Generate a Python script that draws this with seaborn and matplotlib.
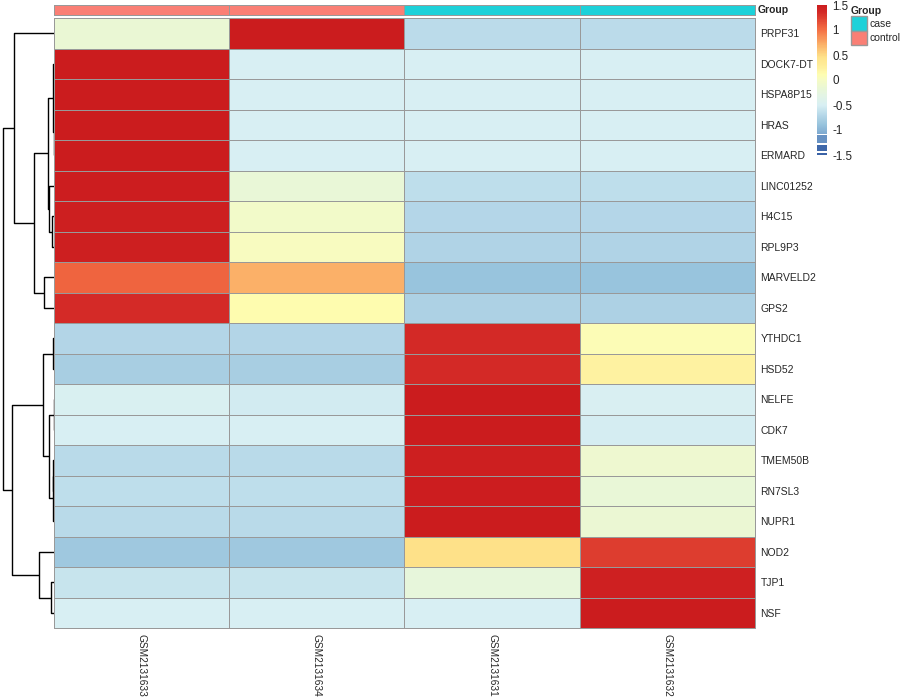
import numpy as np
import pandas as pd
import matplotlib
matplotlib.use("Agg")
import matplotlib.pyplot as plt
import seaborn as sns
from matplotlib.colors import ListedColormap, to_rgb
from matplotlib.patches import Patch

# Data (row z-scores)
genes = ["PRPF31", "DOCK7-DT", "HSPA8P15", "HRAS", "ERMARD", "LINC01252", "H4C15",
         "RPL9P3", "MARVELD2", "GPS2", "YTHDC1", "HSD52", "NELFE", "CDK7",
         "TMEM50B", "RN7SL3", "NUPR1", "NOD2", "TJP1", "NSF"]
samples = ["GSM2131633", "GSM2131634", "GSM2131631", "GSM2131632"]
groups = ["control", "control", "case", "case"]

gsm2131633 = [-0.15, 1.5, 1.5, 1.5, 1.5, 1.48, 1.47, 1.46, 1.05, 1.35,
              -0.72, -0.79, -0.48, -0.5, -0.68, -0.65, -0.68, -0.85, -0.6, -0.5]
gsm2131634 = [1.5, -0.5, -0.5, -0.5, -0.5, -0.18, -0.05, 0.02, 0.72, 0.12,
              -0.72, -0.79, -0.53, -0.5, -0.68, -0.65, -0.68, -0.85, -0.6, -0.5]
gsm2131631 = [-0.67, -0.5, -0.5, -0.5, -0.5, -0.65, -0.71, -0.74, -0.89, -0.76,
              1.36, 1.36, 1.5, 1.5, 1.46, 1.48, 1.5, 0.45, -0.22, -0.5]
gsm2131632 = [-0.67, -0.5, -0.5, -0.5, -0.5, -0.65, -0.71, -0.74, -0.89, -0.76,
              0.08, 0.22, -0.49, -0.52, -0.1, -0.18, -0.14, 1.25, 1.45, 1.5]

# row dendrogram: (left child, right child, height)
# ids < 20 are rows, ids >= 20 are earlier merges
merges = [(2, 3, 0.2), (20, 4, 0.4), (1, 21, 0.6), (6, 7, 1.7), (5, 23, 5.0),
          (22, 24, 5.7), (8, 9, 9.7), (25, 26, 19.7), (0, 27, 40.0),
          (10, 11, 0.8), (12, 13, 0.5), (14, 15, 0.7), (31, 16, 1.5),
          (30, 32, 4.7), (29, 33, 10.7), (18, 19, 3.3), (17, 35, 14.7),
          (34, 36, 42.3), (28, 37, 51.3)]

legend_ticks = [-1.5, -1, -0.5, 0, 0.5, 1, 1.5]
group_colors = {"case": "#1DD1D9", "control": "#FA7F75"}
grid_col = "#999999"

# colour scale: smooth above -1.07, a few blocks below (as in the reference legend)
anchor_vals = [-1.07, -0.9, -0.8, -0.7, -0.6, -0.5, -0.3, -0.15, 0.0, 0.12,
               0.25, 0.45, 0.7, 1.0, 1.2, 1.35, 1.5]
anchor_cols = ["#7FA9D0", "#96C2DC", "#A6CCE1", "#B5D7E8", "#C6E3ED", "#D8EFF3",
               "#E3F4E4", "#EAF7D5", "#F6FBC4", "#FEFDB0", "#FEF09E", "#FEE28A",
               "#FBB36A", "#F46F44", "#E24733", "#D42B27", "#CB1B1E"]
anchor_rgb = np.array([to_rgb(c) for c in anchor_cols])
colors = []
for v in np.arange(-1.5, 1.5, 0.01) + 0.005:
    if v < -1.45:
        colors.append(to_rgb("#3A62A6"))
    elif v < -1.42:
        colors.append((1, 1, 1))
    elif v < -1.29:
        colors.append(to_rgb("#3F68AA"))
    elif v < -1.25:
        colors.append((1, 1, 1))
    elif v < -1.09:
        colors.append(to_rgb("#6892C3"))
    elif v < -1.07:
        colors.append((1, 1, 1))
    else:
        colors.append(tuple(np.interp(v, anchor_vals, anchor_rgb[:, k]) for k in range(3)))
cmap = ListedColormap(colors)

sns.set_style("white")
plt.rcParams["font.family"] = ["Liberation Sans", "DejaVu Sans"]
plt.rcParams["axes.unicode_minus"] = False

df = pd.DataFrame({samples[0]: gsm2131633, samples[1]: gsm2131634,
                   samples[2]: gsm2131631, samples[3]: gsm2131632}, index=genes)

W, H = 900, 700
fig = plt.figure(figsize=(W / 100, H / 100), dpi=100)

def px_axes(x0, y0, x1, y1):
    return fig.add_axes([x0 / W, 1 - y1 / H, (x1 - x0) / W, (y1 - y0) / H])

def cell_borders(ax, nrow, ncol):
    # crisp 1px gray borders round every cell
    for i in range(nrow + 1):
        ax.axhline(i, color=grid_col, lw=0.72, clip_on=False)
    for j in range(ncol + 1):
        ax.axvline(j, color=grid_col, lw=0.72, clip_on=False)

ax_hm = px_axes(54, 18, 755, 628)
ax_ann = px_axes(54, 5, 755, 15)
ax_den = px_axes(0, 18, 54, 628)
ax_cb = px_axes(817, 5, 827, 155)

sns.heatmap(df, ax=ax_hm, cmap=cmap, vmin=-1.5, vmax=1.5, linewidths=0,
            cbar_ax=ax_cb, cbar_kws={"ticks": legend_ticks})
cell_borders(ax_hm, len(genes), len(samples))
ax_hm.tick_params(axis="y", left=False, right=False, labelleft=False,
                  labelright=True, length=0, pad=4, labelsize=7.5)
ax_hm.set_yticklabels(genes, rotation=0, ha="left")
ax_hm.tick_params(axis="x", length=0, pad=4, labelsize=7.3)
ax_hm.set_xticklabels(samples, rotation=270, ha="center", va="top")
ax_hm.set_xlabel("")
ax_hm.set_ylabel("")

# colour legend
cbar = ax_hm.collections[0].colorbar
cbar.outline.set_visible(False)
ax_cb.set_yticklabels(["-1.5", "-1", "-0.5", "0", "0.5", "1", "1.5"])
ax_cb.tick_params(length=0, pad=4, labelsize=8.4)

# group annotation bar
ann = pd.DataFrame([[1 if g == "case" else 0 for g in groups]], columns=samples)
sns.heatmap(ann, ax=ax_ann, cmap=ListedColormap([group_colors["control"], group_colors["case"]]),
            vmin=0, vmax=1, cbar=False, linewidths=0,
            xticklabels=False, yticklabels=False)
cell_borders(ax_ann, 1, len(samples))
fig.text(758 / W, 1 - 10 / H, "Group", fontsize=7.5, fontweight="bold", va="center", ha="left")

# row dendrogram
n = len(genes)
centers = {i: i + 0.5 for i in range(n)}
heights = {i: 0.0 for i in range(n)}
for k, (a, b, h) in enumerate(merges):
    nid = n + k
    ax_den.plot([heights[a], h, h, heights[b]], [centers[a], centers[a], centers[b], centers[b]],
                color="black", lw=1.0, solid_capstyle="butt")
    centers[nid] = (centers[a] + centers[b]) / 2
    heights[nid] = h
ax_den.set_xlim(54, 0)
ax_den.set_ylim(n, 0)
ax_den.axis("off")

# group legend
handles = [Patch(facecolor=group_colors[g], edgecolor=grid_col, label=g) for g in ["case", "control"]]
fig.legend(handles=handles, title="Group", loc="upper left", bbox_to_anchor=(851 / W, 1 - 6 / H),
           frameon=False, fontsize=7.5, title_fontproperties={"weight": "bold", "size": 7.5},
           handlelength=1.5, handleheight=1.8, handletextpad=0.25, labelspacing=0.0,
           borderpad=0, borderaxespad=0, alignment="left")

fig.savefig("out.png", dpi=100)
